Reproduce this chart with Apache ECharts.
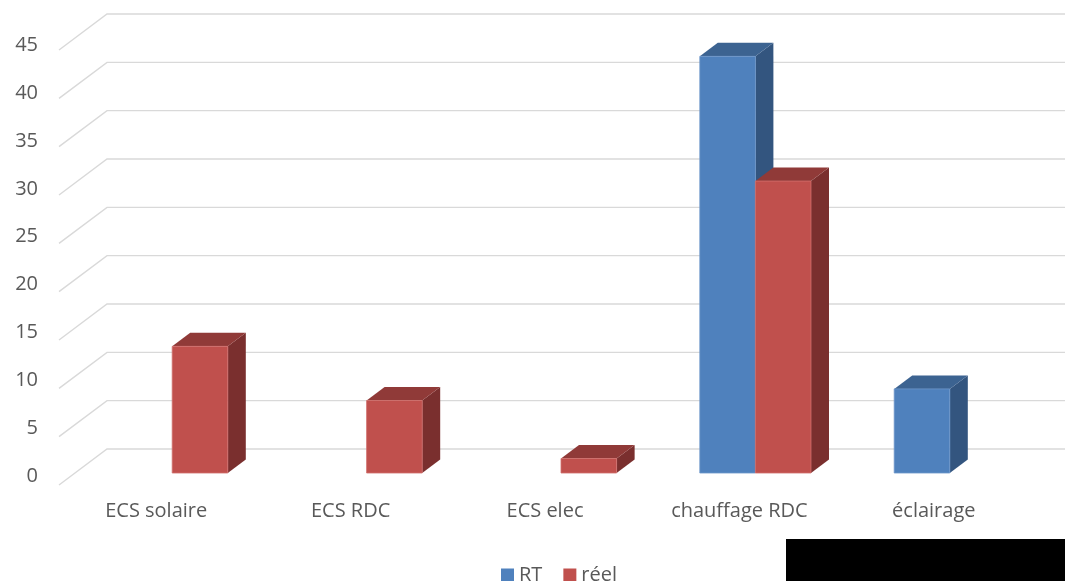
<!DOCTYPE html>
<html>
<head>
<meta charset="utf-8">
<script src="https://cdn.jsdelivr.net/npm/echarts@6/dist/echarts.min.js"></script>
<style>
  html, body { margin: 0; padding: 0; background: #fff; }
  #chart { width: 1065px; height: 581px; }
</style>
</head>
<body>
<div id="chart"></div>
<script>
// Consommations par poste
const categories = ['ECS solaire', 'ECS RDC', 'ECS elec', 'chauffage RDC', 'éclairage'];
const valuesRT = [null, null, null, 43.1, 8.7];
const valuesReel = [13.1, 7.5, 1.5, 30.2, null];
const yTicks = [0, 5, 10, 15, 20, 25, 30, 35, 40, 45];

// faux-3D depth of the bars and of the chart walls
const BAR_DX = 18, BAR_DY = -13.5;
const WALL_FRONT_DX = -16, WALL_FRONT_DY = 12;
const WALL_BACK_DX = 32, WALL_BACK_DY = -24;

const palettes = {
  RT:   { front: '#4f81bd', top: '#3c6391', side: '#33557f', edge: '#6d97ca' },
  reel: { front: '#c0504d', top: '#903a38', side: '#7a2f2e', edge: '#d0706d' }
};
const fontFamily = '"Open Sans", "Liberation Sans", sans-serif';
const textColor = '#595959';

function toPairs(arr) {
  const out = [];
  arr.forEach((v, i) => { if (v !== null) out.push([i, v]); });
  return out;
}

function barRenderer(pal, side) {
  return function (params, api) {
    const idx = api.value(0);
    const val = api.value(1);
    const base = api.coord([idx, 0]);
    const top = api.coord([idx, val]);
    const band = api.size([1, 0])[0];
    const w = band * 0.286;
    const x0 = side === 'left' ? base[0] - w : base[0];
    const x1 = x0 + w;
    const yb = base[1], yt = top[1];
    return {
      type: 'group',
      children: [
        { type: 'polygon', shape: { points: [[x1, yb], [x1 + BAR_DX, yb + BAR_DY], [x1 + BAR_DX, yt + BAR_DY], [x1, yt]] },
          style: { fill: pal.side } },
        { type: 'polygon', shape: { points: [[x0, yt], [x1, yt], [x1 + BAR_DX, yt + BAR_DY], [x0 + BAR_DX, yt + BAR_DY]] },
          style: { fill: pal.top } },
        { type: 'rect', shape: { x: x0, y: yt, width: w, height: yb - yt },
          style: { fill: pal.front, stroke: pal.edge, lineWidth: 0.8 } }
      ]
    };
  };
}

// wall gridline (left wall diagonal + back wall horizontal) and its tick label
function gridRenderer(params, api) {
  const cs = params.coordSys;
  const v = api.value(0);
  const y = api.coord([0, v])[1];
  const xf = cs.x + WALL_FRONT_DX, yf = y + WALL_FRONT_DY;
  const xb = cs.x + WALL_BACK_DX, yb = y + WALL_BACK_DY;
  return {
    type: 'group',
    children: [
      { type: 'polyline',
        shape: { points: [[xf, yf], [xb, yb], [cs.x + cs.width + 60, yb]] },
        style: { stroke: '#d9d9d9', lineWidth: 1.4, fill: null } },
      { type: 'text',
        x: cs.x - 37, y: 0.989 * y + 8,
        style: { text: String(v), fill: textColor, font: '20px ' + fontFamily,
                 textAlign: 'right', textVerticalAlign: 'middle' } }
    ]
  };
}

const chart = echarts.init(document.getElementById('chart'), null, { renderer: 'canvas' });

chart.setOption({
  animation: false,
  backgroundColor: '#ffffff',
  grid: { left: 75, right: 18, top: 38, bottom: 108, containLabel: false },
  xAxis: {
    type: 'category',
    data: categories,
    axisLine: { show: false },
    axisTick: { show: false },
    axisLabel: {
      color: textColor, fontFamily, fontSize: 20, margin: 28,
      padding: [0, 32, 0, 0]
    }
  },
  yAxis: {
    type: 'value',
    min: 0, max: 45, interval: 5,
    axisLine: { show: false },
    axisTick: { show: false },
    splitLine: { show: false },
    axisLabel: { show: false }
  },
  legend: {
    data: ['RT', 'réel'],
    left: 496, top: 560,
    icon: 'rect', itemWidth: 13, itemHeight: 13, itemGap: 21, itemStyle: { borderWidth: 0 },
    textStyle: { color: textColor, fontFamily, fontSize: 20 }
  },
  graphic: [
    { type: 'rect', shape: { x: 786, y: 539, width: 279, height: 42 }, style: { fill: '#000' }, z: 100 }
  ],
  series: [
    {
      name: 'gridlines', type: 'custom', silent: true, z: 1,
      data: yTicks.map(v => [v]),
      encode: { y: 0 },
      renderItem: gridRenderer
    },
    {
      name: 'RT', type: 'custom', z: 2,
      itemStyle: { color: palettes.RT.front },
      data: toPairs(valuesRT),
      encode: { x: 0, y: 1 },
      renderItem: barRenderer(palettes.RT, 'left')
    },
    {
      name: 'réel', type: 'custom', z: 3,
      itemStyle: { color: palettes.reel.front },
      data: toPairs(valuesReel),
      encode: { x: 0, y: 1 },
      renderItem: barRenderer(palettes.reel, 'right')
    }
  ]
});
</script>
</body>
</html>
